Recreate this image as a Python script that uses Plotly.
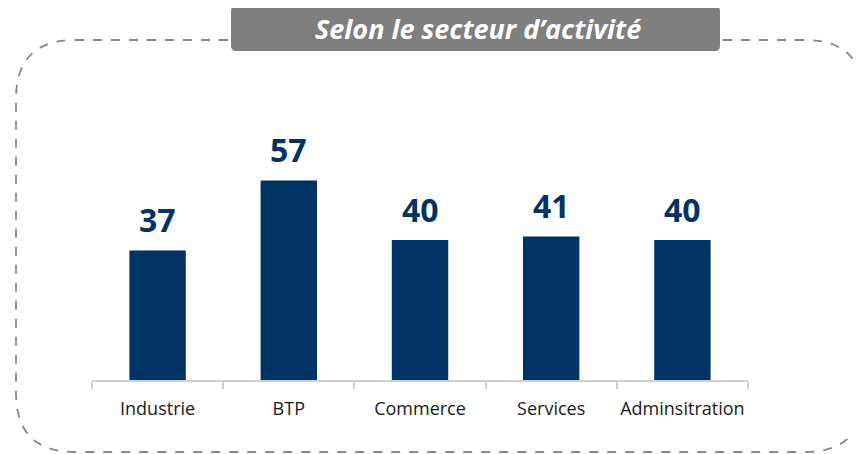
import plotly.graph_objects as go

secteurs = ["Industrie", "BTP", "Commerce", "Services", "Adminsitration"]
valeurs = [37, 57, 40, 41, 40]
titre = "Selon le secteur d’activité"

NAVY = "#003366"

# the page puts the figure 8px in from the corner, so work in shifted pixels
OFF = 8
L, R, T, B = 92 - OFF, 748 - OFF, 60 - OFF, 380 - OFF
W, H = 861 - OFF, 454 - OFF


def px(x, y):
    x, y = x - OFF, y - OFF
    return (x - L) / (R - L), (B - y) / (B - T)


def rounded_path(x0, y0, x1, y1, r):
    pts = [
        ("M", [(x0 + r, y0)]),
        ("L", [(x1 - r, y0)]),
        ("Q", [(x1, y0), (x1, y0 + r)]),
        ("L", [(x1, y1 - r)]),
        ("Q", [(x1, y1), (x1 - r, y1)]),
        ("L", [(x0 + r, y1)]),
        ("Q", [(x0, y1), (x0, y1 - r)]),
        ("L", [(x0, y0 + r)]),
        ("Q", [(x0, y0), (x0 + r, y0)]),
    ]
    out = []
    for cmd, ps in pts:
        coords = " ".join("%.5f,%.5f" % px(a, b) for a, b in ps)
        out.append(cmd + " " + coords)
    return " ".join(out) + " Z"


fig = go.Figure()

fig.add_trace(
    go.Bar(
        x=secteurs,
        y=valeurs,
        width=0.43,
        marker=dict(color=NAVY, line=dict(width=0)),
        hoverinfo="x+y",
    )
)

for s, v in zip(secteurs, valeurs):
    fig.add_annotation(
        x=s, y=v, text="<b>%d</b>" % v,
        showarrow=False, yanchor="bottom", yshift=7,
        font=dict(size=32, color=NAVY, family="Open Sans"),
    )

shapes = [
    dict(
        type="path", xref="paper", yref="paper", layer="below",
        path=rounded_path(16, 40, 864, 452, 59),
        line=dict(color="#888888", width=1.8, dash="dash"),
    ),
    dict(
        type="path", xref="paper", yref="paper", layer="above",
        path=rounded_path(231, 6, 720, 51, 5),
        fillcolor="#7f7f7f", line=dict(width=0),
    ),
]

tx, ty = px(478, 29)
fig.add_annotation(
    x=tx, y=ty, xref="paper", yref="paper", text="<b><i>" + titre + "</i></b>",
    showarrow=False, xanchor="center", yanchor="middle",
    font=dict(size=27, color="white", family="Open Sans"),
)

fig.update_layout(
    width=W, height=H,
    margin=dict(l=L, r=W - R, t=T, b=H - B, pad=0, autoexpand=False),
    paper_bgcolor="white", plot_bgcolor="white",
    showlegend=False,
    shapes=shapes,
    font=dict(family="Open Sans", size=18, color="#1a1a1a"),
    xaxis=dict(
        range=[-0.5, 4.5], showline=True, linecolor="#d0d0d0", linewidth=1.5,
        ticks="outside", tickson="boundaries", ticklen=7, tickcolor="#d0d0d0",
        tickwidth=1.5, showgrid=False, fixedrange=True,
        tickangle=0, automargin=False, ticklabelstandoff=12,
    ),
    yaxis=dict(
        range=[0, 91.4], visible=False, showgrid=False, zeroline=False,
        fixedrange=True,
    ),
)

fig.write_html("out.html")
